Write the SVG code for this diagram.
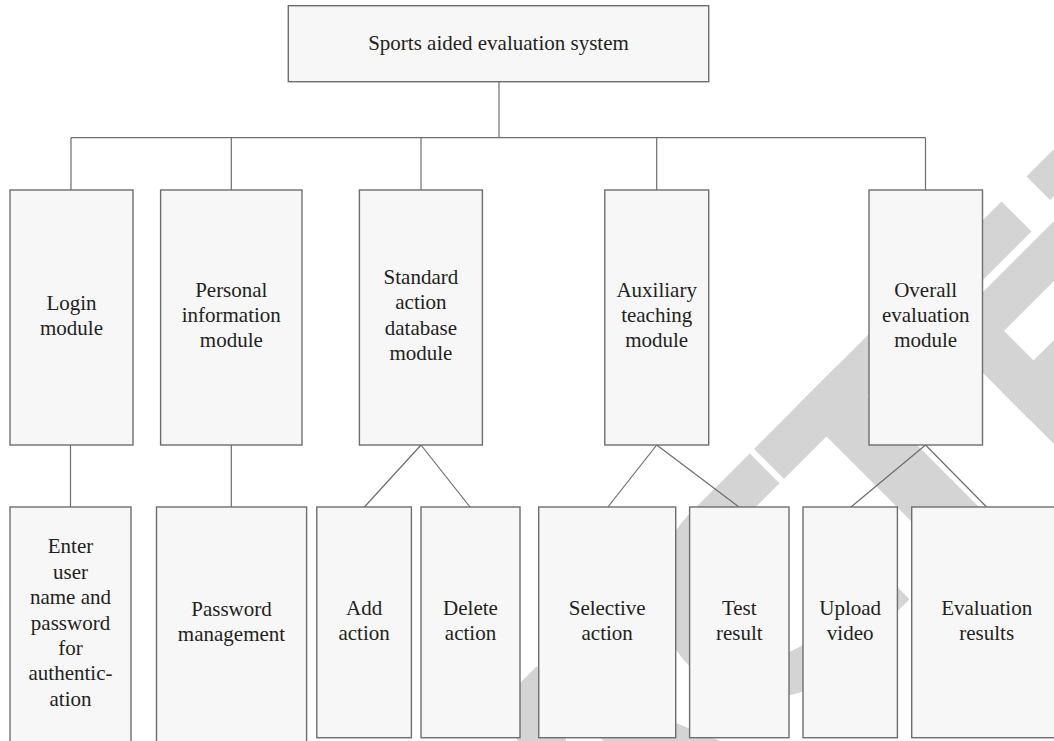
<svg xmlns="http://www.w3.org/2000/svg" width="1054" height="741" viewBox="0 0 1054 741">
<style>
.box{fill:#f7f7f7;stroke:#6d6d6d;stroke-width:1.4}
.lbl{font-family:"Liberation Serif","Times New Roman",serif;font-size:21px;fill:#231f20;text-anchor:middle}
.wm{fill:#d4d4d4;stroke:none}
.conn line{stroke:#6d6d6d;stroke-width:1.2}
</style>
<rect width="1054" height="741" fill="#ffffff"/>
<g id="watermark">
<polygon class="wm" points="754,449 1001.5,201.5 1031.5,231.5 784,479"/>
<polygon class="wm" points="796.5,406.5 837.5,365.5 991,519 950,560"/>
<polygon class="wm" points="906.5,296.5 938,265 1091.5,418.5 1060,450"/>
<polygon class="wm" points="942.5,332.5 1087.5,187.5 1117.5,217.5 972.5,362.5"/>
<polygon class="wm" points="1002,392 1147,247 1175,275 1030,420"/>
<polygon class="wm" points="1026.5,176.5 1056.5,146.5 1080,170 1050,200"/>
<path class="wm" transform="translate(766,590) rotate(-45)" d="M85,-108 L0,-108 A108,108 0 0 0 0,108 L95,108 L95,66 L0,66 A66,66 0 0 1 0,-66 L85,-66 Z"/>
<path class="wm" fill-rule="evenodd" d="M501.5,701.5 L536.5,666.5 L755,755 L722.5,787.5 L662.5,762.5 L600,825 L625,885 L590,920 Z M552,710 L632.5,757.5 L592.5,797.5 Z"/>
</g>
<g id="connectors" class="conn">
<line x1="499" y1="81.7" x2="499" y2="137.7"/>
<line x1="71" y1="137.7" x2="925.5" y2="137.7"/>
<line x1="71" y1="137.7" x2="71" y2="190"/>
<line x1="231.3" y1="137.7" x2="231.3" y2="190"/>
<line x1="421" y1="137.7" x2="421" y2="190"/>
<line x1="656.7" y1="137.7" x2="656.7" y2="190"/>
<line x1="925.5" y1="137.7" x2="925.5" y2="190"/>
<line x1="70.5" y1="445" x2="70.5" y2="507"/>
<line x1="231.3" y1="445" x2="231.3" y2="507"/>
<line x1="421" y1="445" x2="364.4" y2="507"/>
<line x1="421" y1="445" x2="470" y2="507"/>
<line x1="656.7" y1="445" x2="607.9" y2="507"/>
<line x1="656.7" y1="445" x2="739" y2="507"/>
<line x1="925.5" y1="445" x2="851" y2="507"/>
<line x1="925.5" y1="445" x2="986.6" y2="507"/>
</g>
<g id="n-root"><rect class="box" x="288.3" y="5.7" width="420.4" height="76"/><text class="lbl" x="498.5" y="49.5">Sports aided evaluation system</text></g>
<g id="n-login"><rect class="box" x="10" y="190" width="123" height="255"/><text class="lbl" x="71.5" y="309.5">Login<tspan x="71.5" dy="25.2">module</tspan></text></g>
<g id="n-personal"><rect class="box" x="160.6" y="190" width="141.4" height="255"/><text class="lbl" x="231.3" y="296.8">Personal<tspan x="231.3" dy="25.2">information</tspan><tspan x="231.3" dy="25.2">module</tspan></text></g>
<g id="n-standard"><rect class="box" x="359.4" y="190" width="123" height="255"/><text class="lbl" x="420.9" y="284.2">Standard<tspan x="420.9" dy="25.2">action</tspan><tspan x="420.9" dy="25.2">database</tspan><tspan x="420.9" dy="25.2">module</tspan></text></g>
<g id="n-auxiliary"><rect class="box" x="604.8" y="190" width="103.9" height="255"/><text class="lbl" x="656.7" y="296.8">Auxiliary<tspan x="656.7" dy="25.2">teaching</tspan><tspan x="656.7" dy="25.2">module</tspan></text></g>
<g id="n-overall"><rect class="box" x="869" y="190" width="113.5" height="255"/><text class="lbl" x="925.7" y="296.8">Overall<tspan x="925.7" dy="25.2">evaluation</tspan><tspan x="925.7" dy="25.2">module</tspan></text></g>
<g id="n-enter"><rect class="box" x="10" y="507" width="121" height="240"/><text class="lbl" x="70.5" y="553.3">Enter<tspan x="70.5" dy="25.4">user</tspan><tspan x="70.5" dy="25.4">name and</tspan><tspan x="70.5" dy="25.4">password</tspan><tspan x="70.5" dy="25.4">for</tspan><tspan x="70.5" dy="25.4">authentic-</tspan><tspan x="70.5" dy="25.4">ation</tspan></text></g>
<g id="n-password"><rect class="box" x="156.5" y="507" width="150.1" height="240"/><text class="lbl" x="231.5" y="616">Password<tspan x="231.5" dy="25.4">management</tspan></text></g>
<g id="n-add"><rect class="box" x="316.8" y="507" width="94.6" height="230.7"/><text class="lbl" x="364.1" y="615">Add<tspan x="364.1" dy="25.4">action</tspan></text></g>
<g id="n-delete"><rect class="box" x="421" y="507" width="99" height="230.7"/><text class="lbl" x="470.5" y="615">Delete<tspan x="470.5" dy="25.4">action</tspan></text></g>
<g id="n-selective"><rect class="box" x="538.7" y="507" width="137" height="230.7"/><text class="lbl" x="607.2" y="615">Selective<tspan x="607.2" dy="25.4">action</tspan></text></g>
<g id="n-test"><rect class="box" x="689.6" y="507" width="99.4" height="230.7"/><text class="lbl" x="739.3" y="615">Test<tspan x="739.3" dy="25.4">result</tspan></text></g>
<g id="n-upload"><rect class="box" x="803" y="507" width="94.4" height="230.7"/><text class="lbl" x="850.2" y="615">Upload<tspan x="850.2" dy="25.4">video</tspan></text></g>
<g id="n-evaluation"><rect class="box" x="911.7" y="507" width="150" height="230.7"/><text class="lbl" x="986.7" y="615">Evaluation<tspan x="986.7" dy="25.4">results</tspan></text></g>
</svg>
